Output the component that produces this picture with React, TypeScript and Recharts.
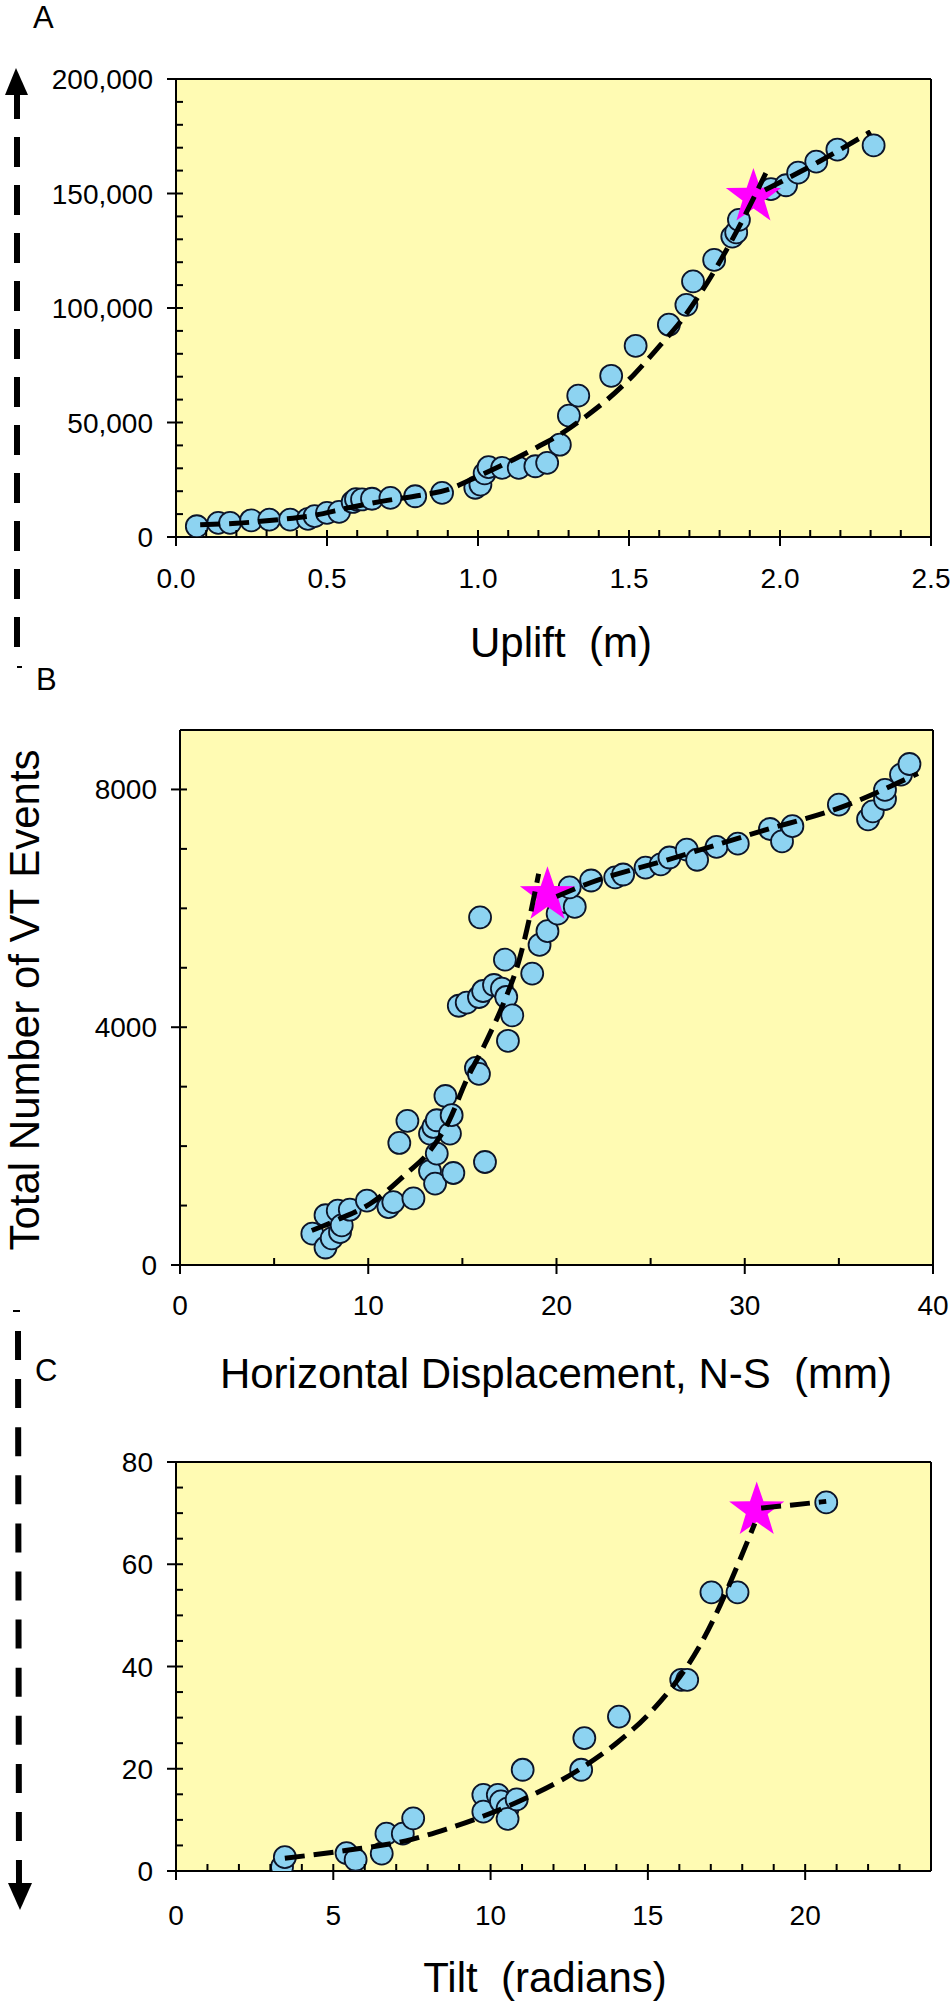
import React from "react";
import {
  ComposedChart,
  Scatter,
  Line,
  XAxis,
  YAxis,
  CartesianGrid,
  ReferenceLine
} from "recharts";

const FONT = '"Liberation Sans", Arial, Helvetica, sans-serif';
const PLOT_FILL = "#FFFBB3";
const POINT_FILL = "#8DD3F1";
const POINT_STROKE = "#0C1428";
const STAR_FILL = "#FF00FF";

// Panel A: uplift (m) vs total VT events
const upliftPoints = [
  [0.069, 4700], [0.14, 6200], [0.179, 6200], [0.249, 7300], [0.309, 7600],
  [0.378, 7600], [0.437, 7900], [0.459, 9100], [0.5, 10500], [0.54, 11000],
  [0.585, 15300], [0.596, 16500], [0.616, 16400], [0.649, 16700], [0.71, 17100],
  [0.792, 17800], [0.881, 19300], [0.991, 21500], [1.008, 22900], [1.022, 27800],
  [1.035, 30500], [1.08, 30200], [1.135, 30200], [1.19, 30900], [1.229, 32400],
  [1.271, 40300], [1.301, 53000], [1.332, 61700], [1.441, 70400], [1.522, 83500],
  [1.632, 92700], [1.69, 101400], [1.712, 111600], [1.782, 121000], [1.842, 131200],
  [1.855, 133000], [1.864, 138500], [1.97, 151900], [2.02, 153600], [2.06, 159100],
  [2.12, 163900], [2.19, 169200], [2.31, 171000]
];
const upliftStar = [[1.912, 148500]];
const upliftFitLow = [
  [0.08, 5400], [0.2, 6000], [0.34, 7600], [0.45, 9300], [0.57, 12700],
  [0.7, 16000], [0.79, 17800], [0.9, 20700], [1.0, 26500], [1.12, 34000],
  [1.2, 39500], [1.28, 45500], [1.34, 51000], [1.428, 60000], [1.516, 70900],
  [1.605, 84000], [1.671, 94100], [1.737, 106500], [1.804, 121000], [1.859, 134100],
  [1.953, 158900]
];
const upliftFitHigh = [[1.95, 151500], [2.13, 164000], [2.3, 177000]];
const upliftXTicks = [0, 0.1, 0.2, 0.3, 0.4, 0.5, 0.6, 0.7, 0.8, 0.9, 1.0, 1.1, 1.2, 1.3, 1.4, 1.5, 1.6, 1.7, 1.8, 1.9, 2.0, 2.1, 2.2, 2.3, 2.4, 2.5];
const upliftXLabels = [0, 0.5, 1.0, 1.5, 2.0, 2.5];
const upliftYTicks = [0, 10000, 20000, 30000, 40000, 50000, 60000, 70000, 80000, 90000, 100000, 110000, 120000, 130000, 140000, 150000, 160000, 170000, 180000, 190000, 200000];
const upliftYLabels = [0, 50000, 100000, 150000, 200000];

// Panel B: horizontal displacement N-S (mm) vs total VT events
const dispPoints = [
  [7.03, 527], [7.73, 294], [7.73, 837], [8.06, 449], [8.38, 914], [8.5, 553],
  [8.59, 666], [9.02, 930], [9.93, 1084], [11.07, 974], [11.33, 1058], [11.65, 2053],
  [12.08, 2425], [12.4, 1120], [13.28, 1581], [13.28, 2211], [13.46, 2322], [13.55, 1369],
  [13.64, 1875], [13.64, 2435], [14.1, 2843], [14.34, 2211], [14.43, 2520], [14.52, 1548],
  [14.81, 4361], [15.23, 4415], [15.72, 3315], [15.88, 3215], [15.88, 4508], [16.1, 4609],
  [15.94, 5848], [16.2, 1733], [16.68, 4710], [17.1, 4648], [17.33, 4508], [17.26, 5136],
  [17.42, 3772], [17.65, 4198], [18.71, 4903], [19.1, 5384], [19.52, 5616], [20.06, 5910],
  [20.5, 6104], [20.97, 6026], [20.7, 6352], [21.84, 6468], [23.12, 6522], [23.54, 6569],
  [24.73, 6685], [25.54, 6739], [26.0, 6855], [26.92, 6987], [27.47, 6817], [28.5, 7033],
  [29.63, 7088], [31.34, 7335], [31.98, 7126], [32.53, 7382], [35.0, 7746], [36.55, 7498],
  [36.8, 7630], [37.45, 7839], [37.45, 7994], [38.3, 8250], [38.75, 8428]
];
const dispStar = [[19.52, 6220]];
const dispFitLow = [
  [7.0, 580], [8.5, 780], [10.1, 1030], [12.0, 1530], [13.3, 1930], [14.3, 2430],
  [15.2, 3098], [16.2, 3718], [17.2, 4415], [18.0, 5112], [18.6, 5887], [19.05, 6580]
];
const dispFitHigh = [[20.0, 6200], [21.8, 6430], [25.9, 6816], [30.7, 7281], [35.5, 7746], [39.2, 8270]];
const dispXTicks = [0, 5, 10, 15, 20, 25, 30, 35, 40];
const dispXLabels = [0, 10, 20, 30, 40];
const dispYTicks = [0, 1000, 2000, 3000, 4000, 5000, 6000, 7000, 8000];
const dispYLabels = [0, 4000, 8000];

// Panel C: tilt (radians) vs total VT events
const tiltPoints = [
  [3.37, 0.8], [3.46, 2.7], [5.42, 3.5], [5.71, 2.2], [6.54, 3.4], [6.69, 7.3],
  [7.21, 7.3], [7.54, 10.3], [9.77, 14.9], [9.77, 11.6], [10.23, 14.9], [10.33, 13.6],
  [10.54, 12.2], [10.54, 10.2], [10.83, 14.0], [11.02, 19.8], [12.88, 19.8], [12.98, 26.0],
  [14.08, 30.2], [16.06, 37.4], [16.25, 37.4], [17.02, 54.5], [17.85, 54.5], [20.67, 72.1]
];
const tiltStar = [[18.46, 70.5]];
const tiltFitLow = [
  [3.46, 2.5], [5.38, 4.0], [7.5, 6.2], [8.6, 8.2], [9.8, 10.8], [10.96, 13.8],
  [12.88, 20.1], [14.0, 25.0], [15.0, 30.5], [15.9, 37.0], [16.6, 43.5], [17.3, 52.0],
  [17.9, 60.5], [18.4, 68.0]
];
const tiltFitHigh = [[18.6, 71.0], [19.6, 71.6], [20.67, 72.3]];
const tiltXTicks = [0, 1, 2, 3, 4, 5, 6, 7, 8, 9, 10, 11, 12, 13, 14, 15, 16, 17, 18, 19, 20, 21, 22, 23];
const tiltXLabels = [0, 5, 10, 15, 20];
const tiltYTicks = [0, 5, 10, 15, 20, 25, 30, 35, 40, 45, 50, 55, 60, 65, 70, 75, 80];
const tiltYLabels = [0, 20, 40, 60, 80];

const toXY = (pairs: number[][]) => pairs.map(([x, y]) => ({ x, y }));
const isIn = (list: number[], v: number) => list.some((l) => Math.abs(l - v) < 1e-9);

function makeXTick(labels: number[], fmt: (v: number) => string, dy: number) {
  return (props: any) => {
    const { x, y, payload } = props;
    const major = isIn(labels, payload.value);
    return (
      <g>
        <line x1={x} x2={x} y1={major ? y + 9 : y} y2={y - 7} stroke="#000" strokeWidth={2} />
        {major && (
          <text x={x} y={y + dy} textAnchor="middle" fontFamily={FONT} fontSize={28} fill="#000">
            {fmt(payload.value)}
          </text>
        )}
      </g>
    );
  };
}

function makeYTick(labels: number[], fmt: (v: number) => string) {
  return (props: any) => {
    const { x, y, payload } = props;
    const major = isIn(labels, payload.value);
    return (
      <g>
        <line x1={major ? x - 9 : x} x2={x + 7} y1={y} y2={y} stroke="#000" strokeWidth={2} />
        {major && (
          <text x={x - 23} y={y + 10} textAnchor="end" fontFamily={FONT} fontSize={28} fill="#000">
            {fmt(payload.value)}
          </text>
        )}
      </g>
    );
  };
}

const Dot = (props: any) => (
  <circle cx={props.cx} cy={props.cy} r={11} fill={POINT_FILL} stroke={POINT_STROKE} strokeWidth={1.8} />
);

const StarShape = (props: any) => {
  const { cx, cy } = props;
  const pts: string[] = [];
  for (let i = 0; i < 10; i++) {
    const rad = i % 2 === 0 ? 29 : 11.5;
    const a = -Math.PI / 2 + (i * Math.PI) / 5;
    pts.push(`${cx + rad * Math.cos(a)},${cy + rad * Math.sin(a)}`);
  }
  return <polygon points={pts.join(" ")} fill={STAR_FILL} />;
};

function Panel(p: any) {
  return (
    <div style={{ position: "absolute", left: 0, top: p.top, width: 950, height: p.height }}>
      <ComposedChart width={950} height={p.height} margin={p.margin}>
        <CartesianGrid horizontal={false} vertical={false} fill={PLOT_FILL} fillOpacity={1} />
        <XAxis
          type="number"
          dataKey="x"
          domain={p.xDomain}
          allowDataOverflow
          ticks={p.xTicks}
          interval={0}
          height={60}
          tickSize={0}
          tickMargin={0}
          tickLine={false}
          axisLine={{ stroke: "#000", strokeWidth: 2 }}
          tick={makeXTick(p.xLabels, p.fmtX, p.xLabelDy)}
        />
        <YAxis
          type="number"
          dataKey="y"
          domain={p.yDomain}
          allowDataOverflow
          ticks={p.yTicks}
          interval={0}
          width={100}
          tickSize={0}
          tickMargin={0}
          tickLine={false}
          axisLine={{ stroke: "#000", strokeWidth: 2 }}
          tick={makeYTick(p.yLabels, p.fmtY)}
        />
        <ReferenceLine y={p.yDomain[1]} stroke="#000" strokeWidth={2} />
        <ReferenceLine x={p.xDomain[1]} stroke="#000" strokeWidth={2} />
        <Scatter data={toXY(p.points)} dataKey="y" shape={Dot} isAnimationActive={false} />
        <Scatter data={toXY(p.star)} dataKey="y" shape={StarShape} isAnimationActive={false} />
        {p.fits.map((f: number[][], i: number) => (
          <Line
            key={i}
            data={toXY(f)}
            dataKey="y"
            type="monotone"
            stroke="#000"
            strokeWidth={5}
            strokeDasharray="20 9"
            dot={false}
            activeDot={false}
            isAnimationActive={false}
            zIndex={700}
          />
        ))}
      </ComposedChart>
    </div>
  );
}

export default function App() {
  return (
    <div style={{ position: "absolute", left: 0, top: 0, width: 950, height: 2002, background: "#fff" }}>
      <Panel
        top={0}
        height={620}
        margin={{ top: 79, right: 19, left: 76, bottom: 23 }}
        xDomain={[0, 2.5]}
        yDomain={[0, 200000]}
        xTicks={upliftXTicks}
        xLabels={upliftXLabels}
        yTicks={upliftYTicks}
        yLabels={upliftYLabels}
        fmtX={(v: number) => v.toFixed(1)}
        fmtY={(v: number) => v.toLocaleString("en-US")}
        xLabelDy={51}
        points={upliftPoints}
        star={upliftStar}
        fits={[upliftFitLow, upliftFitHigh]}
      />
      <Panel
        top={650}
        height={680}
        margin={{ top: 80, right: 17, left: 80, bottom: 5 }}
        xDomain={[0, 40]}
        yDomain={[0, 9000]}
        xTicks={dispXTicks}
        xLabels={dispXLabels}
        yTicks={dispYTicks}
        yLabels={dispYLabels}
        fmtX={(v: number) => String(v)}
        fmtY={(v: number) => String(v)}
        xLabelDy={50}
        points={dispPoints}
        star={dispStar}
        fits={[dispFitLow, dispFitHigh]}
      />
      <Panel
        top={1380}
        height={560}
        margin={{ top: 82, right: 19, left: 76, bottom: 9 }}
        xDomain={[0, 24]}
        yDomain={[0, 80]}
        xTicks={tiltXTicks}
        xLabels={tiltXLabels}
        yTicks={tiltYTicks}
        yLabels={tiltYLabels}
        fmtX={(v: number) => String(v)}
        fmtY={(v: number) => String(v)}
        xLabelDy={54}
        points={tiltPoints}
        star={tiltStar}
        fits={[tiltFitLow, tiltFitHigh]}
      />
      <svg
        width={950}
        height={2002}
        style={{ position: "absolute", left: 0, top: 0, pointerEvents: "none" }}
        fontFamily={FONT}
      >
        <text x={33} y={28} fontSize={31}>A</text>
        <text x={36} y={690} fontSize={31}>B</text>
        <text x={35} y={1381} fontSize={31}>C</text>
        <text x={561} y={657} fontSize={42} textAnchor="middle" xmlSpace="preserve">Uplift  (m)</text>
        <text x={556} y={1388} fontSize={42} textAnchor="middle" xmlSpace="preserve">Horizontal Displacement, N-S  (mm)</text>
        <text x={545} y={1992} fontSize={42} textAnchor="middle" xmlSpace="preserve">Tilt  (radians)</text>
        <text x={39} y={1000} fontSize={42} textAnchor="middle" transform="rotate(-90, 39, 1000)">
          Total Number of VT Events
        </text>
        {/* upward arrow beside panel A */}
        <polygon points="16,68 5,95 28,95" fill="#000" />
        <line x1={17} y1={89} x2={17} y2={648} stroke="#000" strokeWidth={6} strokeDasharray="30 18" />
        <line x1={17} y1={667} x2={22} y2={667} stroke="#000" strokeWidth={2} />
        {/* downward arrow beside panel C */}
        <line x1={13} y1={1311} x2={20} y2={1311} stroke="#000" strokeWidth={2} />
        <line x1={18} y1={1331} x2={19} y2={1886} stroke="#000" strokeWidth={6} strokeDasharray="29 19.1" />
        <polygon points="20,1910 8,1883 32,1883" fill="#000" />
      </svg>
    </div>
  );
}
